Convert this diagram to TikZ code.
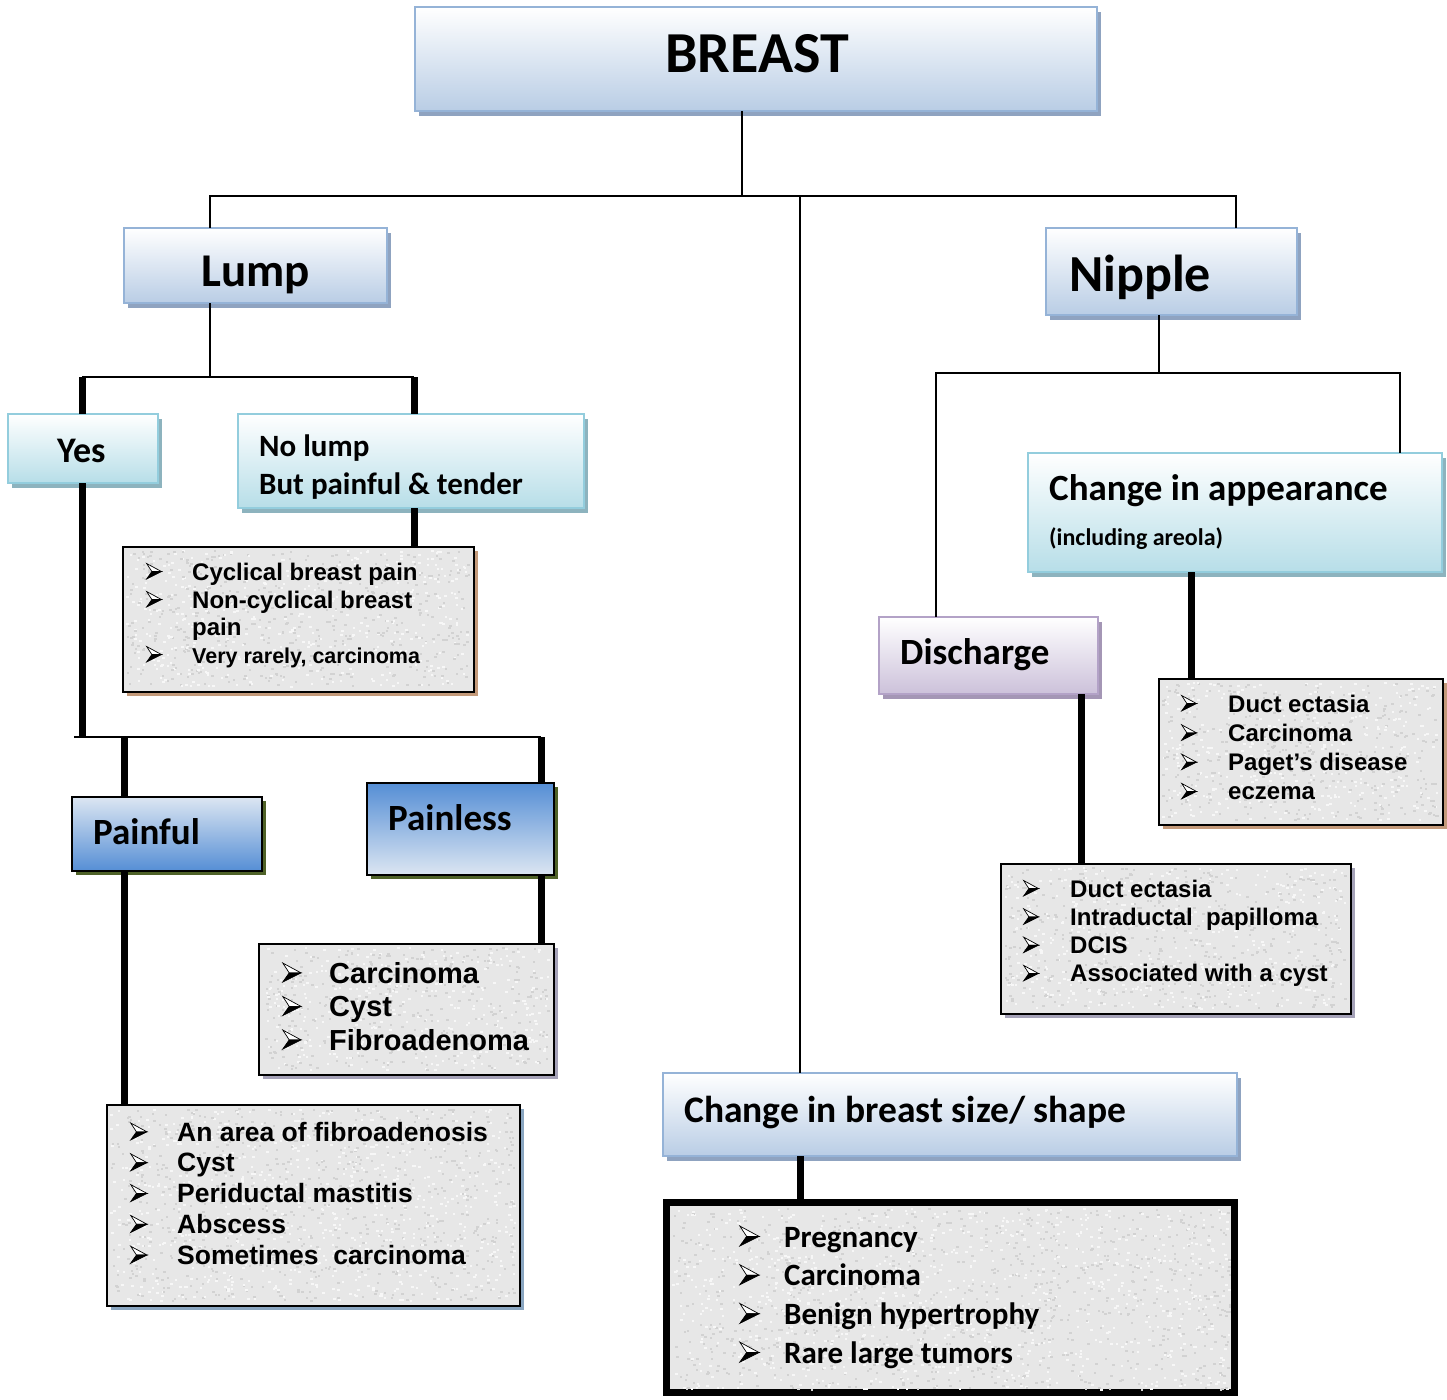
\documentclass[tikz,border=0pt]{standalone}
\usepackage{fontspec}
\usetikzlibrary{shadows}
\newfontfamily\titlefont{Carlito}
\newfontfamily\listfont{Liberation Sans}

\definecolor{bluebd}{HTML}{95B3D7}
\definecolor{bluebot}{HTML}{B9CDE5}
\definecolor{blueshadow}{HTML}{8FA3C0}
\definecolor{cyanbd}{HTML}{93CDDD}
\definecolor{cyanbot}{HTML}{B7DEE8}
\definecolor{cyanshadow}{HTML}{8DB3BE}
\definecolor{lilacbd}{HTML}{B3A2C7}
\definecolor{lilacbot}{HTML}{CCC1DA}
\definecolor{lilacshadow}{HTML}{A496B5}
\definecolor{midblue}{HTML}{558ED5}
\definecolor{paleblue}{HTML}{DCE6F2}
\definecolor{oliveshadow}{HTML}{4F6228}
\definecolor{tanshadow}{HTML}{C49A7A}
\definecolor{violetshadow}{HTML}{A5A2B8}
\definecolor{steelshadow}{HTML}{8AA6C1}
\definecolor{paper}{HTML}{E7E7E7}
\definecolor{graindark}{HTML}{D2D2D2}
\definecolor{grainlight}{HTML}{F7F7F7}

\tikzset{
  panel/.style={rectangle, inner sep=0pt, outer sep=0pt, anchor=north west},
  bluebox/.style={panel, draw=bluebd, line width=2.5pt, top color=white, bottom color=bluebot,
    general shadow={shadow xshift=4pt, shadow yshift=-5pt, fill=blueshadow}},
  cyanbox/.style={panel, draw=cyanbd, line width=2.5pt, top color=white, bottom color=cyanbot,
    general shadow={shadow xshift=4pt, shadow yshift=-5pt, fill=cyanshadow}},
  lilacbox/.style={panel, draw=lilacbd, line width=2.5pt, top color=white, bottom color=lilacbot,
    general shadow={shadow xshift=4pt, shadow yshift=-5pt, fill=lilacshadow}},
  downbox/.style={panel, draw=black, line width=2.5pt, top color=paleblue, bottom color=midblue,
    general shadow={shadow xshift=4pt, shadow yshift=-4pt, fill=oliveshadow}},
  upbox/.style={panel, draw=black, line width=2.5pt, top color=midblue, bottom color=paleblue,
    general shadow={shadow xshift=4pt, shadow yshift=-4pt, fill=oliveshadow}},
  listbox/.style={panel, draw=black, line width=2.5pt, fill=paper,
    general shadow={shadow xshift=4pt, shadow yshift=-4pt, fill=#1}},
  ttl/.style={inner sep=0pt, anchor=base west, font=\titlefont\bfseries\fontsize{#1}{#1}\selectfont},
  itm/.style={inner sep=0pt, anchor=base west},
  thinline/.style={line width=2.2pt},
  thickline/.style={line width=7pt},
}

% box from (x1,y1) to (x2,y2)
\newcommand\panelbox[6]{\node[#1, minimum width={#4-#2}, minimum height={#5-#3}] (#6) at (#2,#3) {};}
% paper grain inside a list box
\newcommand\grain[5]{%
  \foreach \k in {1,...,#5} {
    \pgfmathsetmacro\gx{#1+3+rnd*(#3-#1-9)}
    \pgfmathsetmacro\gy{#2+3+rnd*(#4-#2-9)}
    \fill[graindark] (\gx,\gy) rectangle ++(2.5,2);
    \pgfmathsetmacro\gx{#1+3+rnd*(#3-#1-9)}
    \pgfmathsetmacro\gy{#2+3+rnd*(#4-#2-9)}
    \fill[grainlight] (\gx,\gy) rectangle ++(2.5,2);
  }}
% three-dimensional arrowhead bullet, sitting on the baseline (x, baseline, size)
\newcommand\arrowbullet[3]{%
  \begin{scope}[shift={(#1,#2)}, x=#3pt, y=-#3pt, line width=0.7pt, line join=miter]
    \filldraw[fill=white] (0.04,-1) -- (1,-0.48) -- (0.38,-0.48) -- cycle;
    \filldraw[fill=black] (0.38,-0.48) -- (1,-0.48) -- (0.04,0) -- cycle;
  \end{scope}}
% bullet list: name, bullet x, text x, first baseline, pitch, items (bullet size in \bulsize)
\newcommand\blist[6]{%
  \foreach \t [count=\i from 0] in {#6} {
    \arrowbullet{#2}{#4+\i*#5-1}{\bulsize}
    \node[itm] (#1-\i) at (#3,{#4+\i*#5}) {\t};
  }}

\begin{document}
\begin{tikzpicture}[x=1pt, y=-1pt]
\pgfmathsetseed{4242}
\useasboundingbox (0,0) rectangle (1447,1399);
\fill[white] (0,0) rectangle (1447,1399);

% ---- boxes ----
\panelbox{bluebox}{415}{7}{1097}{111}{breast}
\panelbox{bluebox}{124}{228}{387}{303}{lump}
\panelbox{bluebox}{1046}{228}{1297}{315}{nipple}
\panelbox{cyanbox}{8}{414}{158}{483}{yes}
\panelbox{cyanbox}{238}{414}{584}{508}{nolump}
\panelbox{listbox=tanshadow}{123}{547}{474}{692}{cyc}
\panelbox{downbox}{72}{797}{262}{871}{painful}
\panelbox{upbox}{367}{783}{554}{875}{painless}
\panelbox{listbox=violetshadow}{259}{944}{554}{1075}{plist}
\panelbox{listbox=steelshadow}{107}{1105}{520}{1306}{pflist}
\panelbox{cyanbox}{1028}{453}{1442}{572}{appear}
\panelbox{lilacbox}{879}{617}{1098}{694}{discharge}
\panelbox{listbox=tanshadow}{1159}{679}{1443}{825}{duct1}
\panelbox{listbox=violetshadow}{1001}{864}{1351}{1014}{duct2}
\panelbox{bluebox}{663}{1073}{1237}{1156}{size}
\node[panel, draw=black, line width=7pt, fill=paper, minimum width=568, minimum height=190]
  (preg) at (666.5,1202.5) {};

\grain{123}{547}{474}{692}{450}
\grain{259}{944}{554}{1075}{340}
\grain{107}{1105}{520}{1306}{720}
\grain{1159}{679}{1443}{825}{360}
\grain{1001}{864}{1351}{1014}{450}
\grain{669}{1205}{1235}{1395}{900}

% ---- connectors ----
\coordinate (t0) at (742,196);
\coordinate (tl) at (210,196);
\coordinate (tr) at (1236,196);
\coordinate (tm) at (800,196);
\draw[thinline] (breast.south -| t0) -- (t0);
\draw[thinline] (tl |- lump.north) -- (tl) -- (tr) -- (tr |- nipple.north);
\draw[thinline] (tm) -- (tm |- size.north);
\draw[thickline] (size.south -| tm) -- (preg.north -| tm);

\coordinate (l0) at (210,377);
\coordinate (ly) at (82,377);
\coordinate (ln) at (414,377);
\draw[thinline] (lump.south -| l0) -- (l0);
\draw[thinline] (ly) -- (ln);
\draw[thickline] (ly) -- (ly |- yes.north);
\draw[thickline] (ln) -- (ln |- nolump.north);
\draw[thickline] (nolump.south -| ln) -- (ln |- cyc.north);

\coordinate (p0) at (82,737);
\coordinate (pe) at (74,737);
\coordinate (pl) at (124,737);
\coordinate (pr) at (541,737);
\draw[thickline] (yes.south -| p0) -- (p0);
\draw[thinline] (pe) -- (pr);
\draw[thickline] (pl) -- (pl |- painful.north);
\draw[thickline] (pr) -- (pr |- painless.north);
\draw[thickline] (painful.south -| pl) -- (pl |- pflist.north);
\draw[thickline] (painless.south -| pr) -- (pr |- plist.north);

\coordinate (n0) at (1159,373);
\coordinate (nd) at (936,373);
\coordinate (na) at (1400,373);
\coordinate (xa) at (1191,600);
\coordinate (xd) at (1081,700);
\draw[thinline] (nipple.south -| n0) -- (n0);
\draw[thinline] (nd |- discharge.north) -- (nd) -- (na) -- (na |- appear.north);
\draw[thickline] (appear.south -| xa) -- (duct1.north -| xa);
\draw[thickline] (discharge.south -| xd) -- (duct2.north -| xd);

% ---- titles ----
\node[ttl=58] (breast-t) at (665,73) {BREAST};
\node[ttl=47] (lump-t) at (201,286) {Lump};
\node[ttl=52] (nipple-t) at (1069,291) {Nipple};
\node[ttl=36] (yes-t) at (57,462) {Yes};
\node[ttl=31] (nolump-t1) at (259,456) {No lump};
\node[ttl=31] (nolump-t2) at (259,494) {But painful \& tender};
\node[ttl=37] (appear-t1) at (1049,500) {Change in appearance};
\node[ttl=24] (appear-t2) at (1049,545) {(including areola)};
\node[ttl=37] (discharge-t) at (900,664) {Discharge};
\node[ttl=37] (painful-t) at (93,844) {Painful};
\node[ttl=37] (painless-t) at (388,830) {Painless};
\node[ttl=37.5] (size-t) at (684,1122) {Change in breast size/ shape};

% ---- lists ----
\begin{scope}[itm/.append style={font=\listfont\bfseries\fontsize{24}{28}\selectfont}]
  \def\bulsize{15.5}
  \blist{cyc}{146}{192}{580}{28}{Cyclical breast pain, Non-cyclical breast}
  \node[itm] (cyc-c) at (192,635) {pain};
  \blist{cycl}{146}{192}{663}{28}{{\fontsize{21.5}{26}\selectfont Very rarely, carcinoma}}
  \blist{da}{1181}{1228}{712}{29.3}{Duct ectasia, Carcinoma, Paget’s disease, eczema}
  \blist{db}{1023}{1070}{897}{28.3}{Duct ectasia, Intraductal~~papilloma, DCIS, Associated with a cyst}
\end{scope}
\begin{scope}[itm/.append style={font=\listfont\bfseries\fontsize{29}{33}\selectfont}]
  \def\bulsize{19}
  \blist{pl}{282}{329}{983}{33.5}{Carcinoma, Cyst, Fibroadenoma}
\end{scope}
\begin{scope}[itm/.append style={font=\listfont\bfseries\fontsize{26.5}{31}\selectfont}]
  \def\bulsize{17}
  \blist{pf}{130}{177}{1141}{30.8}{An area of fibroadenosis, Cyst, Periductal mastitis, Abscess, Sometimes~~carcinoma}
\end{scope}
\begin{scope}[itm/.append style={font=\titlefont\bfseries\fontsize{31}{36}\selectfont}]
  \def\bulsize{20}
  \blist{pg}{739}{784}{1247}{38.7}{Pregnancy, Carcinoma, Benign hypertrophy, Rare large tumors}
\end{scope}
\end{tikzpicture}
\end{document}
